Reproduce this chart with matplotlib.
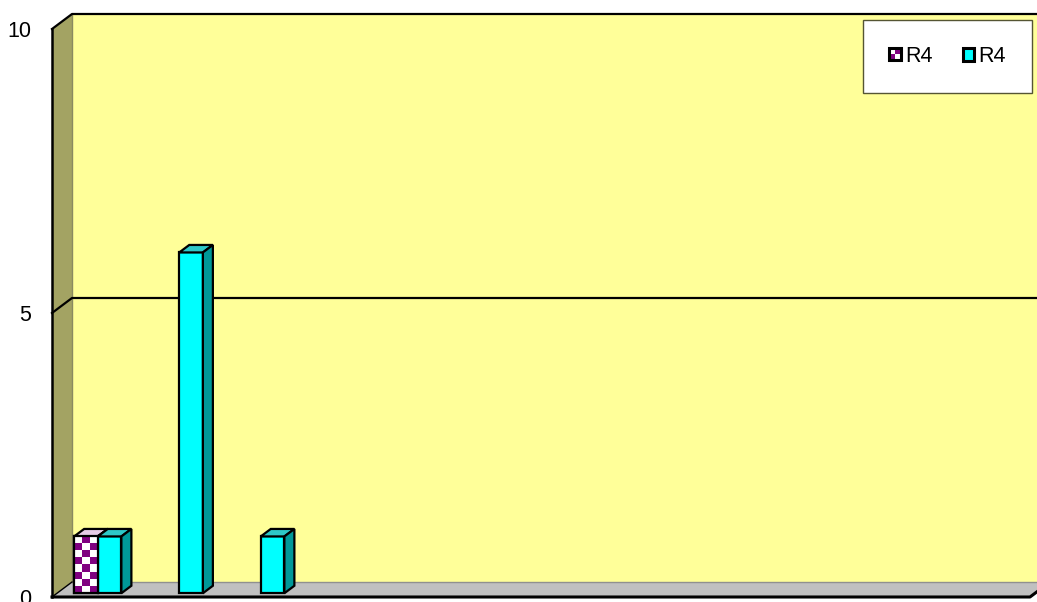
import numpy as np
import matplotlib
matplotlib.use("Agg")
import matplotlib.pyplot as plt
from matplotlib.patches import Polygon, Rectangle, Patch
from matplotlib.colors import ListedColormap
from matplotlib.legend_handler import HandlerBase

plt.rcParams['font.family'] = ['Liberation Sans', 'DejaVu Sans']

# data (12 categories, no category labels shown on the chart)
categories = [f"{m}月" for m in range(1, 13)]
series_names = ["R4", "R4"]
checker_vals = [1, 0, 0, 0, 0, 0, 0, 0, 0, 0, 0, 0]
cyan_vals = [1, 6, 1, 0, 0, 0, 0, 0, 0, 0, 0, 0]
y_ticks = [0, 5, 10]

W, H = 1037, 602
fig = plt.figure(figsize=(W / 100, H / 100), dpi=100)
ax = fig.add_axes([52 / W, 5 / H, 978 / W, 568 / H])
n = len(categories)
ymax = y_ticks[-1]

# depth offset of the back wall in data units
dx = 20 / 978 * n
dy = 15 / 568 * ymax

purple = '#800080'
cyan = '#00FFFF'
cyan_side = '#009999'
cyan_top = '#2EC8C8'

# walls and floor
ax.add_patch(Rectangle((dx, dy), n, ymax, facecolor='#FFFF99', edgecolor='none', zorder=0, clip_on=False))
ax.add_patch(Polygon([(0, 0), (dx, dy), (dx, ymax + dy), (0, ymax)], closed=True,
                     facecolor='#A3A363', edgecolor='none', zorder=1, clip_on=False))
ax.add_patch(Polygon([(0, 0), (n, 0), (n + dx, dy), (dx, dy)], closed=True,
                     facecolor='#C0C0C0', edgecolor='none', zorder=1, clip_on=False))
ax.plot([dx, dx], [dy, ymax + dy], color='#8A8A60', lw=1, zorder=1.5, clip_on=False)
ax.plot([dx, n + dx], [dy, dy], color='#909090', lw=1, zorder=1.5, clip_on=False)

# gridlines on back and left wall
for t in y_ticks[1:]:
    ax.plot([0, dx, n + dx], [t, t + dy, t + dy], color='black', lw=1.6, zorder=2, clip_on=False)

# front edges
ax.plot([0, 0], [0, ymax], color='black', lw=1.8, zorder=2, clip_on=False)
ax.plot([0, n, n + dx], [0, 0, dy], color='black', lw=2.2, zorder=2, clip_on=False)
ax.plot([0, dx], [0, dy], color='black', lw=1, zorder=2, clip_on=False)

bw = 0.29
f0, f1 = 0.25, 0.75


def bar3d(xl, h, face, side, top, checker=False):
    ox0, oy0 = f0 * dx, f0 * dy
    ox1, oy1 = f1 * dx, f1 * dy
    bars = ax.bar(xl + ox0, h, bw, bottom=oy0, align='edge', color=face,
                  edgecolor='black', linewidth=1.6, zorder=4)
    if checker:
        rows = int(round(7.5 * h))
        board = np.indices((rows, 3)).sum(axis=0) % 2
        im = ax.imshow(board, cmap=ListedColormap(['white', purple]), interpolation='nearest',
                       extent=(xl + ox0, xl + ox0 + bw, oy0, oy0 + h), aspect='auto', zorder=4.5)
        im.set_clip_path(bars.patches[0])
        ax.add_patch(Rectangle((xl + ox0, oy0), bw, h, fill=False, edgecolor='black', lw=1.6, zorder=4.6))
    ax.add_patch(Polygon([(xl + ox0, h + oy0), (xl + bw + ox0, h + oy0), (xl + bw + ox1, h + oy1),
                          (xl + ox1, h + oy1)], closed=True, facecolor=top, edgecolor='black',
                         lw=1.6, zorder=4))
    ax.add_patch(Polygon([(xl + bw + ox0, oy0), (xl + bw + ox1, oy1), (xl + bw + ox1, h + oy1),
                          (xl + bw + ox0, h + oy0)], closed=True, facecolor=side, edgecolor='black',
                         lw=1.6, zorder=4))


for i in range(n):
    if checker_vals[i] > 0:
        bar3d(i + 0.5 - bw, checker_vals[i], 'white', purple, '#E6CCE6', checker=True)
    if cyan_vals[i] > 0:
        bar3d(i + 0.5, cyan_vals[i], cyan, cyan_side, cyan_top)

ax.set_xlim(0, n)
ax.set_ylim(0, ymax)
ax.set_xticks([])
ax.set_yticks(y_ticks)
ax.tick_params(axis='y', length=0, pad=15, labelsize=15.5)
for s in ax.spines.values():
    s.set_visible(False)
ax.patch.set_visible(False)


class CheckerHandler(HandlerBase):
    def create_artists(self, legend, orig_handle, xdescent, ydescent, width, height, fontsize, trans):
        s = min(width, height)
        x0 = -xdescent + (width - s) / 2
        y0 = -ydescent + (height - s) / 2
        half = s / 2
        arts = []
        for i in range(2):
            for j in range(2):
                c = purple if (i + j) % 2 == 0 else 'white'
                arts.append(Rectangle((x0 + i * half, y0 + j * half), half, half,
                                      facecolor=c, edgecolor='none', transform=trans))
        arts.append(Rectangle((x0, y0), s, s, fill=False, edgecolor='black', lw=2.2, transform=trans))
        return arts


h1 = Patch(facecolor='white', edgecolor='black')
h2 = Patch(facecolor=cyan, edgecolor='black', linewidth=2.2)
leg = fig.legend(handles=[h1, h2], labels=series_names, handler_map={h1: CheckerHandler()},
                 ncol=2, loc='upper right', bbox_to_anchor=(1032 / W, 1 - 20 / H), borderaxespad=0,
                 frameon=True, fancybox=False, edgecolor='#555533', framealpha=1,
                 borderpad=1.2, handlelength=0.55, handleheight=0.55, handletextpad=0.2,
                 columnspacing=1.4, fontsize=15.5)
leg.get_frame().set_linewidth(1)

fig.savefig('out.png', dpi=100)
